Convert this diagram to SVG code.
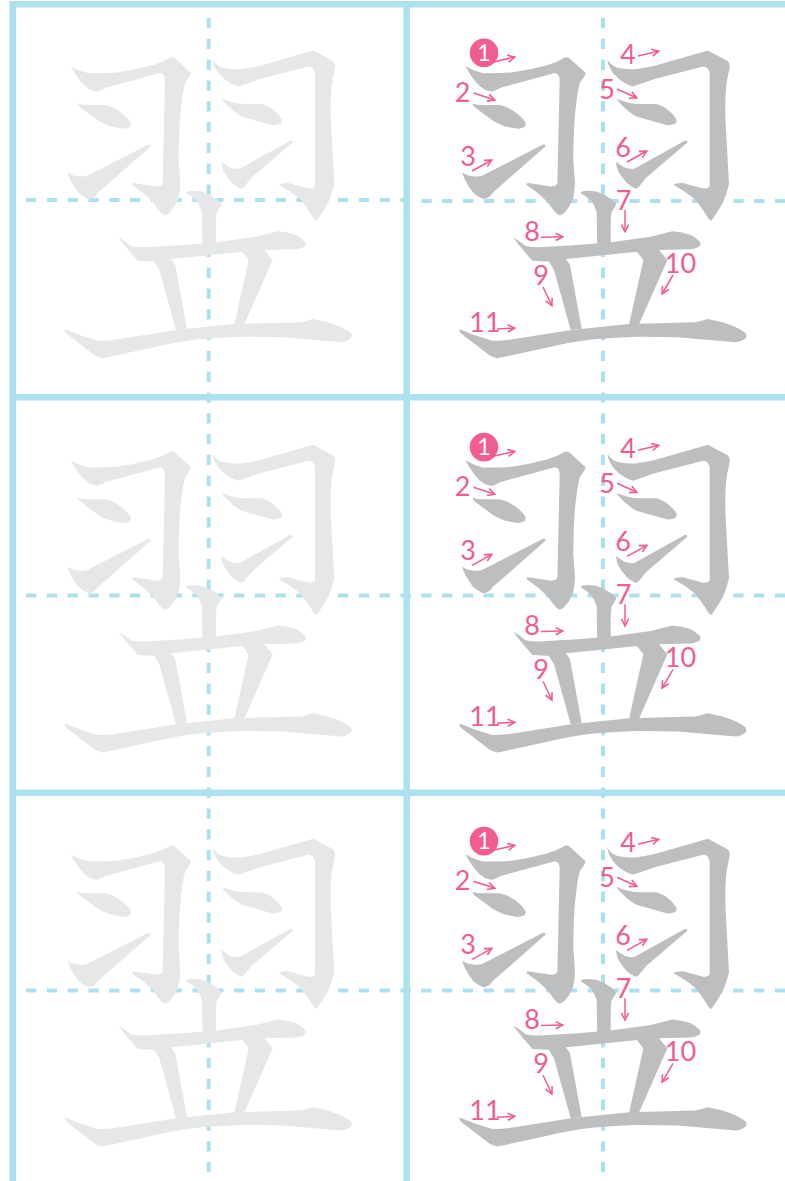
<svg xmlns="http://www.w3.org/2000/svg" width="785" height="1181" viewBox="0 0 785 1181">
<style>
.grid{stroke:#aee1f0;stroke-width:6.6;fill:none}
.dash{stroke:#aee1f0;stroke-width:4;stroke-dasharray:10.3 10.5;fill:none}
.pale{fill:#e6e7e8}
.dark{fill:#bcbec0}
.n{font-family:Lato,"DejaVu Sans",sans-serif;font-size:27px;fill:#f15c91;text-anchor:middle}
.w{font-family:Lato,"DejaVu Sans",sans-serif;font-size:23px;fill:#fff;text-anchor:middle}
.a{stroke:#f15c91;stroke-width:1.5;fill:none;marker-end:url(#ah)}
.b{fill:#f15c91}
</style>
<defs>
<marker id="ah" markerUnits="userSpaceOnUse" markerWidth="10" markerHeight="10" refX="8.3" refY="5" orient="auto"><path d="M1 1.4L8 5L1 8.6" fill="none" stroke="#f15c91" stroke-width="1.6"/></marker>
<g id="glyph">
<path d="M70.7 65.8Q78 71 88.3 73.1Q102 73.5 116.7 72.5Q135 70 153 65Q163 62 171 57Q174 57 176.7 60L191 73Q190.5 76 185.3 82.5Q183 90 181.7 102.5Q179 120 178.5 159L180.3 182.5Q180 192 178.3 199Q175 207 170 212.5Q166 216 164 215Q161 214 153.3 202.5Q144 193 131.7 184.8Q132 183 133.3 183L156.7 186.5Q162 186 162.7 183L165 79Q164 73 160 73L106.7 87.5L98.3 91.5Q94 91.5 90 89.8Q84 86 80 80.8Q73 71 70.7 65.8Z"/>
<path d="M78.3 103.5Q82 105 86.7 105L105 105Q110 106 113.3 107.8Q120 111 125 115.8Q129 119 131 123Q131 127 128.3 127.5Q125 129 121.7 128.5Q113 127.5 106.7 125Q102 123 98.3 120.8L81.7 108.5Q77 105 78.3 103.5Z"/>
<path d="M67.7 172.5Q71 175 75 175.8Q82 177 87.3 175.8L148.3 144.5Q151 144 150.7 146.5L98.3 192.5Q95 197 93.3 197.5Q90 199.5 87.3 198.5Q82 196 78.3 192.5Q74 187 70.7 180.8Q68 175 67.7 172.5Z"/>
<path d="M212.7 59.8Q215 63 218.3 65.8Q222 68 226.7 68.5Q233 69.5 240 69.2Q250 68 260 65.8L313.3 50.5L333.3 61.2Q335.5 64 335 67.5L332.3 80.8Q330 95 330.7 119L334.3 184Q332 194 328.3 202.5Q323 212 316.7 220.8Q314 220 310 212.5Q305 205 300 199Q290 191 278.7 184.8Q282 182.5 288.3 183L308.3 188.5Q314 189 315 185.8L315 72.5Q313 66 308.3 66.5L260 79L238.3 86.5Q234 85 230 83Q223 79 218.3 73Q213 65 212.7 59.8Z"/>
<path d="M221.7 98.5Q227 101 233.3 102.5Q240 104 246.7 104L261.7 104Q266 105 270 107.5Q277 112 281.7 119Q282.5 123 280 124Q276 125.5 271.7 125L241.7 116.5Q237 114 233.3 110.8Q225 104 221.7 98.5Z"/>
<path d="M221.7 161.8Q225 165 230 167.5Q236 169.5 240 168.5L290 140.8Q293 140 292.7 142.5L251.7 177.5Q248 182 245 185.8Q243 189 240.7 188.5Q235 186 231.7 182.5Q226 176 223.3 170.8Q221 164 221.7 161.8Z"/>
<path d="M186 193Q186 191.5 190 191Q200 190 208.3 194Q216 198 221.7 204Q220 208 216.7 212.5Q216 218 216 226L216 246L202.5 246L202 212Q200 206 196.7 200.8Q191 196 186 193Z"/>
<path d="M118.3 237.3Q125 241 131 246Q137 247.5 144.3 247.3L182.7 245L216 242.3L256 236.7L277.7 231.3Q288 232 296 235Q302 238 305.3 241.7Q306.5 245 304.3 246.7Q300 249 296 249.3L262.7 250L242.7 251.7L169.3 259.3L156 261.7L137.7 260.7Q127 249 118.3 237.3Z"/>
<path d="M152 258L159.3 270L176 330L187 329L175.3 265Q173 261 169.3 257Z"/>
<path d="M240 249L248.7 260L234 326L244 325L272.7 260L262.7 248Z"/>
<path d="M65 329.3Q80 336 97.7 340.7Q105 341 112.7 340L176.7 330L234.3 324L301 322.3Q307 321 312.7 319Q325 321 336 325Q346 329 351 333.3Q353 337 350 339Q346 342 341 342.3L282.7 337.3Q262 336.5 242.7 336.7Q220 337.5 199.3 339.3Q175 342 149.3 348.3L102.7 358.3Q98 357.5 94.3 355L66 333.3Q64 330 65 329.3Z"/>
</g>
<g id="ghostcell"><use href="#glyph" class="pale"/></g>
<g id="darkcell"><use href="#glyph" class="dark" x="394.7"/></g>
</defs>
<g id="grid">
<path class="grid" d="M12.7 1V1181M406.7 1V1181M9.4 4.3H785M9.4 397.3H785M9.4 792.7H785"/>
<path class="dash" d="M208.7 18V1181M603 18V1181"/>
<path class="dash" d="M26 200H410M421.4 201H785M26 595.5H785M26 990.5H785"/>
</g>
<g id="row1">
<use href="#ghostcell"/><use href="#darkcell"/>
<g id="labels1">
<circle cx="484" cy="52.8" r="14.3" class="b"/>
<text class="w" x="484" y="60.7">1</text>
<text class="n" x="462.500" y="101.7">2</text><text class="n" x="468" y="166">3</text><text class="n" x="628" y="63.5">4</text><text class="n" x="607" y="99">5</text><text class="n" x="623" y="156.7">6</text><text class="n" x="623.5" y="210">7</text><text class="n" x="532" y="241">8</text><text class="n" x="541" y="285">9</text><text class="n" x="680.5" y="272.7">10</text><text class="n" x="485" y="331.7">11</text>
<path class="a" d="M493 62L515 57"/><path class="a" d="M473.500 93L495 100"/><path class="a" d="M472 171L492 160"/><path class="a" d="M638 56L659 51"/><path class="a" d="M617 89L637 98"/><path class="a" d="M627 162L647 151"/><path class="a" d="M625 210V232"/><path class="a" d="M541 237.300L563 236.700"/><path class="a" d="M543 287L552 306"/><path class="a" d="M673 275L662 294"/><path class="a" d="M497 329L515 328"/>
</g>
</g>
<g id="row2" transform="translate(0 394.300)">
<use href="#ghostcell"/><use href="#darkcell"/>
<g id="labels2">
<circle cx="484" cy="52.8" r="14.3" class="b"/>
<text class="w" x="484" y="60.7">1</text>
<text class="n" x="462.500" y="101.7">2</text><text class="n" x="468" y="166">3</text><text class="n" x="628" y="63.5">4</text><text class="n" x="607" y="99">5</text><text class="n" x="623" y="156.7">6</text><text class="n" x="623.5" y="210">7</text><text class="n" x="532" y="241">8</text><text class="n" x="541" y="285">9</text><text class="n" x="680.5" y="272.7">10</text><text class="n" x="485" y="331.7">11</text>
<path class="a" d="M493 62L515 57"/><path class="a" d="M473.500 93L495 100"/><path class="a" d="M472 171L492 160"/><path class="a" d="M638 56L659 51"/><path class="a" d="M617 89L637 98"/><path class="a" d="M627 162L647 151"/><path class="a" d="M625 210V232"/><path class="a" d="M541 237.300L563 236.700"/><path class="a" d="M543 287L552 306"/><path class="a" d="M673 275L662 294"/><path class="a" d="M497 329L515 328"/>
</g>
</g>
<g id="row3" transform="translate(0 788.300)">
<use href="#ghostcell"/><use href="#darkcell"/>
<g id="labels3">
<circle cx="484" cy="52.8" r="14.3" class="b"/>
<text class="w" x="484" y="60.7">1</text>
<text class="n" x="462.500" y="101.7">2</text><text class="n" x="468" y="166">3</text><text class="n" x="628" y="63.5">4</text><text class="n" x="607" y="99">5</text><text class="n" x="623" y="156.7">6</text><text class="n" x="623.5" y="210">7</text><text class="n" x="532" y="241">8</text><text class="n" x="541" y="285">9</text><text class="n" x="680.5" y="272.7">10</text><text class="n" x="485" y="331.7">11</text>
<path class="a" d="M493 62L515 57"/><path class="a" d="M473.500 93L495 100"/><path class="a" d="M472 171L492 160"/><path class="a" d="M638 56L659 51"/><path class="a" d="M617 89L637 98"/><path class="a" d="M627 162L647 151"/><path class="a" d="M625 210V232"/><path class="a" d="M541 237.300L563 236.700"/><path class="a" d="M543 287L552 306"/><path class="a" d="M673 275L662 294"/><path class="a" d="M497 329L515 328"/>
</g>
</g>
</svg>
